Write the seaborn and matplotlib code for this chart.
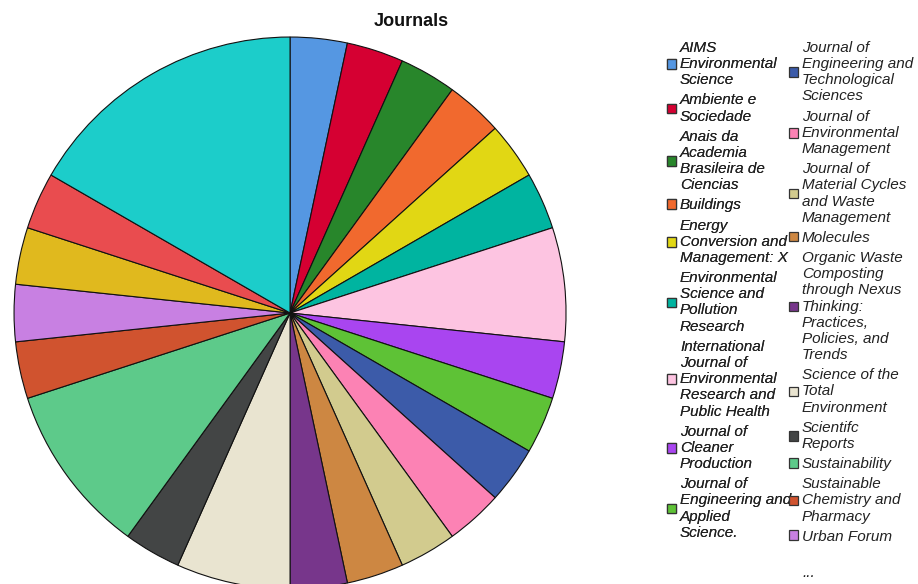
import matplotlib
matplotlib.use("Agg")
import matplotlib.pyplot as plt
from matplotlib.patches import Patch
import seaborn as sns

# -------------------------------------------------
# Data: journals (legend wraps kept as in the chart) and paper counts
# -------------------------------------------------
journals = [
    "AIMS\nEnvironmental\nScience",
    "Ambiente e\nSociedade",
    "Anais da\nAcademia\nBrasileira de\nCiencias",
    "Buildings",
    "Energy\nConversion and\nManagement: X",
    "Environmental\nScience and\nPollution\nResearch",
    "International\nJournal of\nEnvironmental\nResearch and\nPublic Health",
    "Journal of\nCleaner\nProduction",
    "Journal of\nEngineering and\nApplied\nScience.",
    "Journal of\nEngineering and\nTechnological\nSciences",
    "Journal of\nEnvironmental\nManagement",
    "Journal of\nMaterial Cycles\nand Waste\nManagement",
    "Molecules",
    "Organic Waste\nComposting\nthrough Nexus\nThinking:\nPractices,\nPolicies, and\nTrends",
    "Science of the\nTotal\nEnvironment",
    "Scientifc\nReports",
    "Sustainability",
    "Sustainable\nChemistry and\nPharmacy",
    "Urban Forum",
    "Waste and Biomass Valorization",
    "Waste Management",
    "Water Science and Technology",
]
counts = [1, 1, 1, 1, 1, 1, 2, 1, 1, 1, 1, 1, 1, 1, 2, 1, 3, 1, 1, 1, 1, 5]
colors = [
    "#5597e2", "#d50032", "#28862b", "#f1692e", "#e1d714", "#00b4a0",
    "#fdc4e1", "#a945f0", "#5ec236", "#3c5ba9", "#fc82b4", "#d2cb8e",
    "#cd8742", "#77368b", "#e9e4d0", "#434545", "#5dca8a", "#d0532f",
    "#c880e2", "#e0b91e", "#e94c4f", "#1ccdca",
]
n_shown = 19          # legend is truncated after "Urban Forum"
col1_len = 9          # entries in the first legend column

# -------------------------------------------------
# Plot
# -------------------------------------------------
sns.set_theme(style="white")
plt.rcParams["font.family"] = ["Liberation Sans", "DejaVu Sans"]
palette = sns.color_palette(colors)

fig = plt.figure(figsize=(9.18, 5.84), dpi=100)
ax = fig.add_axes([0.0153, -0.0086, 0.6013, 0.9452])
wedges, _ = ax.pie(
    counts, colors=palette, startangle=90, counterclock=False, radius=1,
    wedgeprops={"edgecolor": "#111111", "linewidth": 0.8},
)
ax.set_xlim(-1, 1)
ax.set_ylim(-1, 1)
ax.set_aspect("equal")
ax.axis("off")

fig.text(0.448, 0.963, "Journals", ha="center", va="center",
         fontsize=13, fontweight="bold", color="#111111")

# Legend handles: small squares with dark edge
handles = [Patch(facecolor=palette[i], edgecolor="#333333", linewidth=0.9)
           for i in range(n_shown)]
labels = journals[:n_shown]

leg_kw = dict(loc="upper left", frameon=False, borderpad=0, borderaxespad=0,
              handlelength=0.6, handleheight=0.6, handletextpad=0.25,
              labelspacing=0.4,
              prop={"style": "italic", "size": 11, "family": "Liberation Sans"},
              labelcolor="#222222")

leg1 = fig.legend(handles[:col1_len], labels[:col1_len],
                  bbox_to_anchor=(0.7266, 0.930), **leg_kw)
blank = Patch(facecolor="none", edgecolor="none")
leg2 = fig.legend(handles[col1_len:] + [blank], labels[col1_len:] + ["\n..."],
                  bbox_to_anchor=(0.8595, 0.930), **leg_kw)
fig.add_artist(leg1)
for leg in (leg1, leg2):
    for t in leg.get_texts():
        t.set_linespacing(1.2)

fig.savefig("out.png", dpi=100, facecolor="white")
